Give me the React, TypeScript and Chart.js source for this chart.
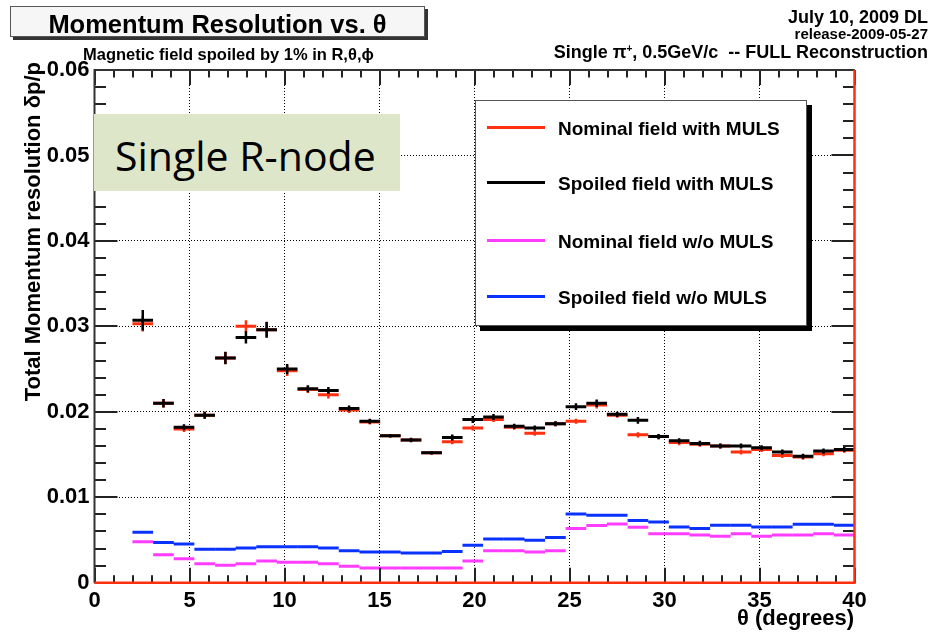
import React, { useEffect, useRef } from 'react';
import { Chart, registerables } from 'chart.js';

Chart.register(...registerables);

// ---- data ----
const thetaCenters = [
  2.54, 3.63, 4.71, 5.8, 6.89, 7.97, 9.06, 10.14, 11.23, 12.31, 13.4, 14.49,
  15.57, 16.66, 17.74, 18.83, 19.91, 21.0, 22.09, 23.17, 24.26, 25.34, 26.43,
  27.51, 28.6, 29.69, 30.77, 31.86, 32.94, 34.03, 35.11, 36.2, 37.29, 38.37, 39.46,
];
const binHalfWidth = 0.543;

const nominalMuls = [
  0.0303, 0.021, 0.018, 0.0196, 0.0263, 0.03, 0.0296, 0.0248, 0.0226, 0.022,
  0.0202, 0.0188, 0.0172, 0.0167, 0.0152, 0.0165, 0.0181, 0.0191, 0.0182, 0.0175,
  0.0186, 0.0189, 0.0208, 0.0196, 0.0173, 0.0171, 0.0164, 0.0162, 0.016, 0.0153,
  0.0156, 0.0149, 0.0147, 0.0151, 0.0155,
];
const nominalMulsErr = [
  0.0009, 0.0005, 0.00035, 0.0004, 0.0007, 0.0007, 0.0009, 0.0006, 0.0004, 0.00045,
  0.00035, 0.0003, 0.0002, 0.0002, 0.0002, 0.0003, 0.0003, 0.0003, 0.0003, 0.0003,
  0.0003, 0.0003, 0.0004, 0.0003, 0.0003, 0.0003, 0.0003, 0.0003, 0.0003, 0.0003,
  0.0003, 0.0003, 0.0003, 0.0003, 0.0003,
];
const spoiledMuls = [
  0.0307, 0.021, 0.0182, 0.0196, 0.0263, 0.0287, 0.0296, 0.025, 0.0227, 0.0225,
  0.0204, 0.0189, 0.0172, 0.0167, 0.0152, 0.017, 0.0191, 0.0194, 0.0183, 0.0181,
  0.0186, 0.0206, 0.021, 0.0197, 0.019, 0.0171, 0.0166, 0.0163, 0.016, 0.016,
  0.0158, 0.0153, 0.0148, 0.0154, 0.0156,
];
const spoiledMulsErr = [
  0.0012, 0.0005, 0.00035, 0.0004, 0.00074, 0.00072, 0.00094, 0.0006, 0.0004, 0.0004,
  0.00035, 0.0003, 0.0002, 0.00025, 0.0002, 0.00035, 0.0004, 0.00035, 0.0003, 0.0003,
  0.0003, 0.0004, 0.00045, 0.0003, 0.0004, 0.0003, 0.0003, 0.0003, 0.0003, 0.0003,
  0.0003, 0.0003, 0.0003, 0.0003, 0.0003,
];
const nominalNoMuls = [
  0.0048, 0.00328, 0.00281, 0.00223, 0.00204, 0.00223, 0.00254, 0.00239, 0.00239, 0.00223,
  0.00192, 0.00172, 0.00172, 0.00172, 0.00172, 0.00172, 0.00254, 0.00375, 0.00375, 0.0036,
  0.00375, 0.00633, 0.00668, 0.00688, 0.00649, 0.00574, 0.00574, 0.00559, 0.00543, 0.00574,
  0.00543, 0.00559, 0.00559, 0.00574, 0.00559,
];
const spoiledNoMuls = [
  0.0059, 0.00469, 0.00454, 0.0039, 0.0039, 0.00407, 0.00422, 0.00422, 0.00422, 0.00407,
  0.00375, 0.0036, 0.0036, 0.00348, 0.00348, 0.00364, 0.00438, 0.00512, 0.00512, 0.00497,
  0.00528, 0.00805, 0.0079, 0.0079, 0.00727, 0.00711, 0.00653, 0.00633, 0.00673, 0.00673,
  0.00653, 0.00653, 0.00684, 0.00684, 0.00673,
];

const xTickLabels = ['0', '5', '10', '15', '20', '25', '30', '35', '40'];
const yTickLabels = ['0', '0.01', '0.02', '0.03', '0.04', '0.05', '0.06'];

const seriesLabels = [
  'Nominal field with MULS',
  'Spoiled field with MULS',
  'Nominal field w/o MULS',
  'Spoiled field w/o MULS',
];

// ---- styles ----
const RED = '#ff3010';
const BLACK = '#000000';
const MAGENTA = '#ff3cff';
const BLUE = '#0a32ff';
const seriesColors = [RED, BLACK, MAGENTA, BLUE];
const ROOT_FONT = '"Liberation Sans", Arial, Helvetica, sans-serif';

function stepData(vals: number[]) {
  const out: any[] = [];
  vals.forEach((v, i) => {
    const c = thetaCenters[i];
    out.push({ x: c - binHalfWidth, y: v }, { x: c + binHalfWidth, y: v }, { x: c + binHalfWidth, y: null });
  });
  return out;
}
function errData(vals: number[], errs: number[]) {
  const out: any[] = [];
  vals.forEach((v, i) => {
    const c = thetaCenters[i];
    out.push({ x: c, y: v - errs[i] }, { x: c, y: v + errs[i] }, { x: c, y: null });
  });
  return out;
}

const framePlugin = {
  id: 'rootFrame',
  afterDraw(chart: any) {
    const { ctx, chartArea } = chart;
    const { left, right, top, bottom } = chartArea;
    const xs = chart.scales.x;
    const ys = chart.scales.y;
    ctx.save();
    ctx.strokeStyle = '#222';
    ctx.lineWidth = 2;
    ctx.beginPath();
    for (let v = 0; v <= 40; v += 1) {
      const px = Math.round(xs.getPixelForValue(v));
      const len = v % 5 === 0 ? 15 : 7.5;
      ctx.moveTo(px, bottom);
      ctx.lineTo(px, bottom - len);
      ctx.moveTo(px, top);
      ctx.lineTo(px, top + len);
    }
    for (let k = 0; k <= 30; k++) {
      const py = Math.round(ys.getPixelForValue(k * 0.002));
      const len = k % 5 === 0 ? 23 : 11.5;
      ctx.moveTo(left, py);
      ctx.lineTo(left + len, py);
      ctx.moveTo(right, py);
      ctx.lineTo(right - len, py);
    }
    ctx.stroke();
    // frame
    ctx.strokeStyle = '#333';
    ctx.lineWidth = 2;
    ctx.beginPath();
    ctx.moveTo(left, bottom);
    ctx.lineTo(left, top);
    ctx.lineTo(right, top);
    ctx.stroke();
    ctx.strokeStyle = RED;
    ctx.lineWidth = 2.5;
    ctx.beginPath();
    ctx.moveTo(left, bottom);
    ctx.lineTo(right, bottom);
    ctx.lineTo(right, top);
    ctx.stroke();
    ctx.restore();
  },
};

export default function App() {
  const canvasRef = useRef<HTMLCanvasElement | null>(null);

  useEffect(() => {
    if (!canvasRef.current) return;
    const lineDs = (data: any[], color: string, order: number, width = 3) => ({
      data,
      borderColor: color,
      backgroundColor: color,
      borderWidth: width,
      pointRadius: 0,
      showLine: true,
      spanGaps: false,
      fill: false,
      order,
      borderCapStyle: 'butt',
    });
    const datasets = [
      lineDs(stepData(spoiledMuls), BLACK, 0),
      lineDs(errData(spoiledMuls, spoiledMulsErr), BLACK, 0, 2.5),
      lineDs(stepData(nominalMuls), RED, 1),
      lineDs(errData(nominalMuls, nominalMulsErr), RED, 1, 2.5),
      lineDs(stepData(spoiledNoMuls), BLUE, 2),
      lineDs(stepData(nominalNoMuls), MAGENTA, 3),
    ];
    const tickFont = { family: ROOT_FONT, weight: 'bold' as const, size: 22 };
    const chart = new Chart(canvasRef.current, {
      type: 'line',
      data: { datasets: datasets as any },
      options: {
        animation: false,
        responsive: false,
        devicePixelRatio: 1,
        layout: { padding: { left: 0, top: 70, right: 96.5, bottom: 0 } },
        plugins: { legend: { display: false }, tooltip: { enabled: false } },
        scales: {
          x: {
            type: 'linear',
            min: 0,
            max: 40,
            afterFit: (s: any) => {
              s.height = 57.3;
            },
            ticks: {
              stepSize: 5,
              autoSkip: false,
              maxRotation: 0,
              font: tickFont,
              color: '#000',
              padding: 5,
              callback: (v: any) => xTickLabels[Math.round(Number(v) / 5)] ?? '',
            },
            grid: {
              drawTicks: false,
              lineWidth: 1,
              color: (c: any) => {
                const v = c.tick ? c.tick.value : -1;
                return v <= 0.001 || v >= 39.999 ? 'rgba(0,0,0,0)' : '#000';
              },
            },
            border: { display: false, dash: [1, 2] },
          },
          y: {
            type: 'linear',
            min: 0,
            max: 0.06,
            afterFit: (s: any) => {
              s.width = 94.5;
            },
            ticks: {
              stepSize: 0.01,
              font: tickFont,
              color: '#000',
              padding: 5,
              callback: (v: any) => yTickLabels[Math.round(Number(v) / 0.01)] ?? '',
            },
            grid: {
              drawTicks: false,
              lineWidth: 1,
              color: (c: any) => {
                const v = c.tick ? c.tick.value : -1;
                return v <= 0.00001 || v >= 0.05999 ? 'rgba(0,0,0,0)' : '#000';
              },
            },
            border: { display: false, dash: [1, 2] },
          },
        },
      } as any,
      plugins: [framePlugin],
    });
    return () => chart.destroy();
  }, []);

  const abs = (s: React.CSSProperties): React.CSSProperties => ({ position: 'absolute', ...s });
  const rootText = (size: number): React.CSSProperties => ({
    fontFamily: ROOT_FONT,
    fontWeight: 'bold',
    fontSize: size,
    lineHeight: `${size}px`,
    whiteSpace: 'pre',
    color: '#000',
  });

  const legendBaselines = [135, 190.5, 248.5, 304];

  return (
    <div style={abs({ left: 0, top: 0, width: 951, height: 640, background: '#fff', overflow: 'hidden' })}>
      <canvas ref={canvasRef} width={951} height={640} style={{ display: 'block', width: 951, height: 640 }} />

      {/* Title box */}
      <div
        style={abs({
          left: 10,
          top: 6,
          width: 413,
          height: 29,
          background: '#f6f6f6',
          border: '1px solid #555',
          boxShadow: '3px 3px 0 #333',
        })}
      />
      <div style={abs({ left: 10, width: 415, top: 11.5, textAlign: 'center', ...rootText(25.5) })}>
        Momentum Resolution vs. θ
      </div>

      {/* subtitles */}
      <div style={abs({ left: 83, top: 45.5, ...rootText(16.5) })}>Magnetic field spoiled by 1% in R,θ,ϕ</div>
      <div style={abs({ right: 23, top: 7.8, textAlign: 'right', ...rootText(18) })}>July 10, 2009 DL</div>
      <div style={abs({ right: 23, top: 26.3, textAlign: 'right', ...rootText(15) })}>release-2009-05-27</div>
      <div style={abs({ right: 23, top: 43.3, textAlign: 'right', ...rootText(18) })}>
        Single π<sup style={{ fontSize: 10, lineHeight: 0, verticalAlign: '6px' }}>+</sup>, 0.5GeV/c  -- FULL Reconstruction
      </div>

      {/* axis titles */}
      <div
        style={abs({
          left: 22,
          top: 462,
          width: 400,
          height: 22,
          textAlign: 'right',
          transform: 'rotate(-90deg)',
          transformOrigin: '0 0',
          ...rootText(22),
        })}
      >
        Total Momentum resolution δp/p
      </div>
      <div style={abs({ right: 97, top: 606.8, textAlign: 'right', ...rootText(22) })}>θ (degrees)</div>

      {/* Single R-node annotation */}
      <div style={abs({ left: 94, top: 114, width: 306, height: 77, background: '#dde6c8' })}>
        <div
          style={abs({
            left: 21,
            top: 19.7,
            fontFamily: '"Open Sans", "Noto Sans", sans-serif',
            fontSize: 41,
            lineHeight: '42px',
            whiteSpace: 'pre',
            color: '#000',
          })}
        >
          Single R-node
        </div>
      </div>

      {/* Legend */}
      <div
        style={abs({
          left: 475,
          top: 100,
          width: 330,
          height: 224,
          background: '#fff',
          border: '1px solid #555',
          boxShadow: '5px 5px 0 #000',
        })}
      />
      {seriesLabels.map((lab, i) => (
        <React.Fragment key={lab}>
          <div
            style={abs({
              left: 487,
              top: legendBaselines[i] - 9.5,
              width: 58,
              height: 3,
              background: seriesColors[i],
            })}
          />
          <div style={abs({ left: 558, top: legendBaselines[i] - 16.1, ...rootText(19) })}>{lab}</div>
        </React.Fragment>
      ))}
    </div>
  );
}
